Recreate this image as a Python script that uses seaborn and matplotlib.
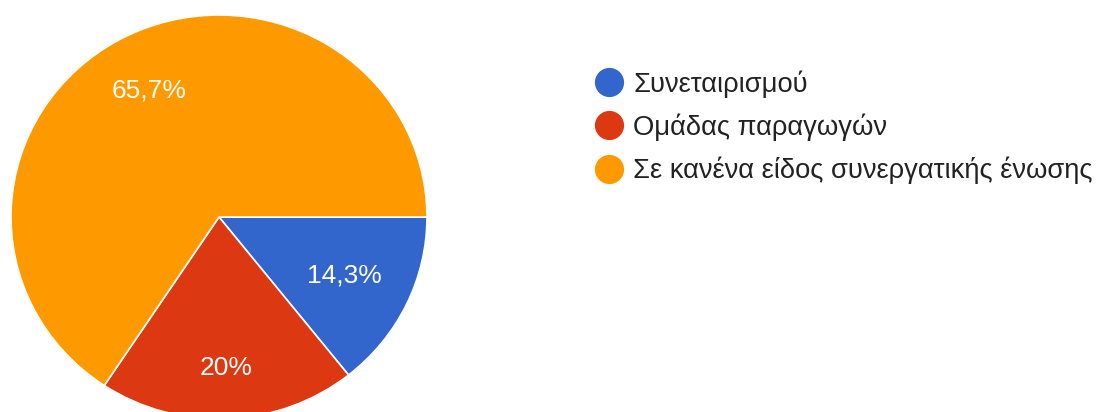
import numpy as np
import matplotlib
matplotlib.use("Agg")
import matplotlib.pyplot as plt
import seaborn as sns
from matplotlib.lines import Line2D

categories = ["Συνεταιρισμού", "Ομάδας παραγωγών", "Σε κανένα είδος συνεργατικής ένωσης"]
values = [14.3, 20.0, 65.7]
pct_labels = ["14,3%", "20%", "65,7%"]
colors = ["#3366CC", "#DC3912", "#FF9900"]

sns.set_theme(style="white")
plt.rcParams['font.family'] = ['Liberation Sans', 'DejaVu Sans']

W, H = 1107, 412
fig = plt.figure(figsize=(W / 100, H / 100), dpi=100)
cx, cy, RX, RY = 219, 412 - 217, 208, 202
ax = fig.add_axes([(cx - RX) / W, (cy - RY) / H, 2 * RX / W, 2 * RY / H])

wedges, _ = ax.pie(values, colors=colors, startangle=0, counterclock=False,
                   wedgeprops=dict(edgecolor="white", linewidth=1.2))
ax.set_xlim(-1, 1)
ax.set_ylim(-1, 1)
ax.set_aspect("auto")
ax.axis("off")

label_r = [0.667, 0.75, 0.71]
for w, lab, r in zip(wedges, pct_labels, label_r):
    ang = np.deg2rad((w.theta1 + w.theta2) / 2)
    ax.text(r * np.cos(ang), r * np.sin(ang), lab, color="white", fontsize=19,
            ha="center", va="center")

handles = [Line2D([], [], marker="o", linestyle="none", markersize=20,
                  markerfacecolor=c, markeredgecolor=c) for c in colors]
fig.legend(handles, categories, loc="upper left",
           bbox_to_anchor=(593 / W, (412 - 70) / H), frameon=False,
           fontsize=19.7, handletextpad=0.32, labelspacing=0.58,
           handlelength=1.15, borderaxespad=0, borderpad=0,
           labelcolor="#222222")

fig.savefig("out.png", dpi=100)
